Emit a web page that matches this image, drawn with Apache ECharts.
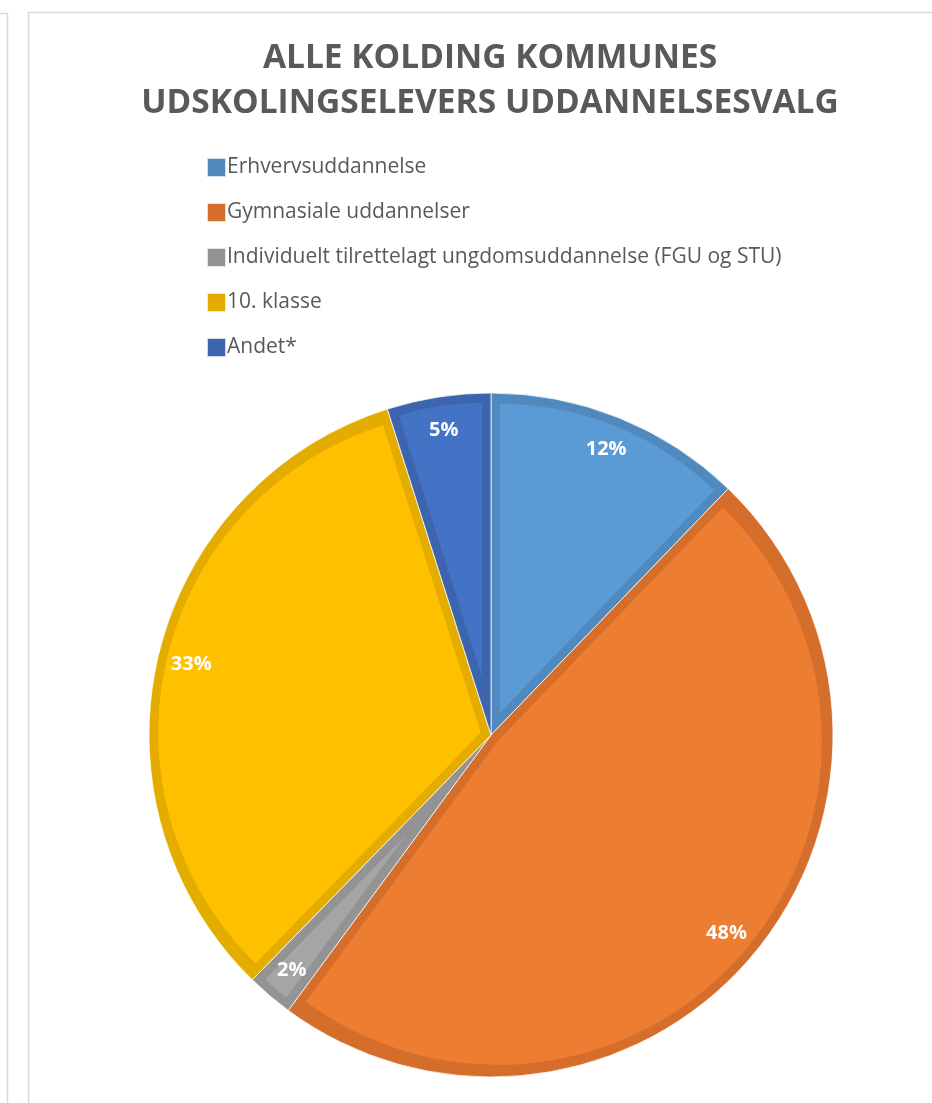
<!DOCTYPE html>
<html>
<head>
<meta charset="utf-8">
<script src="https://cdn.jsdelivr.net/npm/echarts@6/dist/echarts.min.js"></script>
<style>
  html, body { margin: 0; padding: 0; background: #fff; }
  #chart { width: 932px; height: 1103px; }
</style>
</head>
<body>
<div id="chart"></div>
<script>
const categories = [
    'Erhvervsuddannelse',
    'Gymnasiale uddannelser',
    'Individuelt tilrettelagt ungdomsuddannelse (FGU og STU)',
    '10. klasse',
    'Andet*'
];
const shares = [12.2, 47.9, 2.2, 32.8, 4.9];
const fillColors = ['#5B9BD5', '#ED7D31', '#A5A5A5', '#FFC000', '#4472C4'];
const edgeColors = ['#4F89BE', '#D46E2A', '#939393', '#E5AC00', '#3C65AE'];

const chart = echarts.init(document.getElementById('chart'), null, { renderer: 'canvas' });

const cx = 491, cy = 735, R = 342, edge = 9;

// outer slices in the darker edge colour
const edgeSeries = {
    type: 'pie',
    center: [cx, cy],
    radius: [0, R],
    startAngle: 90,
    clockwise: true,
    silent: true,
    label: { show: false },
    labelLine: { show: false },
    itemStyle: { borderWidth: 1, borderColor: 'rgba(255,255,255,0.75)' },
    data: categories.map((name, i) => ({
        name: name,
        value: shares[i],
        itemStyle: { color: edgeColors[i] }
    }))
};

// inner lighter fill per slice, shifted out along its bisector so the edge band keeps an even width
const total = shares.reduce((a, b) => a + b, 0);
let acc = 0;
const fillSeries = shares.map((v, i) => {
    const theta = v / total * Math.PI * 2;
    const mid = acc + theta / 2;
    acc += theta;
    const off = edge / Math.sin(theta / 2);
    return {
        type: 'pie',
        center: [cx + off * Math.sin(mid), cy - off * Math.cos(mid)],
        radius: [0, R - edge - off],
        startAngle: 90,
        clockwise: true,
        silent: true,
        legendHoverLink: false,
        label: { show: false },
        labelLine: { show: false },
        data: categories.map((name, j) => ({
            name: name,
            value: shares[j],
            itemStyle: { color: j === i ? fillColors[i] : 'transparent' }
        }))
    };
});

const labelSeries = {
    type: 'pie',
    center: [cx, cy],
    radius: [268, R],
    startAngle: 90,
    clockwise: true,
    silent: true,
    legendHoverLink: false,
    itemStyle: { color: 'transparent', borderWidth: 0 },
    label: {
        show: true,
        position: 'inside',
        formatter: p => Math.round(p.value) + '%',
        fontFamily: 'Open Sans',
        fontWeight: 'bold',
        fontSize: 20,
        color: '#ffffff'
    },
    labelLine: { show: false },
    data: categories.map((name, i) => ({ name: name, value: shares[i] }))
};

const option = {
    backgroundColor: '#ffffff',
    animation: false,
    title: {
        text: 'ALLE KOLDING KOMMUNES\nUDSKOLINGSELEVERS UDDANNELSESVALG',
        left: 485,
        textAlign: 'center',
        top: 31,
        textStyle: {
            fontFamily: 'Open Sans',
            fontWeight: 'bold',
            fontSize: 33.5,
            lineHeight: 45,
            color: '#595959'
        }
    },
    legend: {
        orient: 'vertical',
        left: 201,
        top: 152,
        itemWidth: 19,
        itemHeight: 19,
        itemGap: 24,
        icon: 'rect',
        data: categories,
        textStyle: {
            fontFamily: 'Open Sans',
            fontSize: 21,
            color: '#595959',
            padding: [0, 0, 0, -4]
        }
    },
    graphic: [
        { type: 'rect', shape: { x: 28.5, y: 12.5, width: 1000, height: 1200 }, style: { fill: null, stroke: '#d9d9d9', lineWidth: 1.5 } },
        { type: 'polyline', shape: { points: [[0, 13.5], [7.5, 13.5], [7.5, 1103]] }, style: { fill: null, stroke: '#d9d9d9', lineWidth: 1.5 } }
    ],
    series: [edgeSeries].concat(fillSeries, [labelSeries])
};

chart.setOption(option);
</script>
</body>
</html>
